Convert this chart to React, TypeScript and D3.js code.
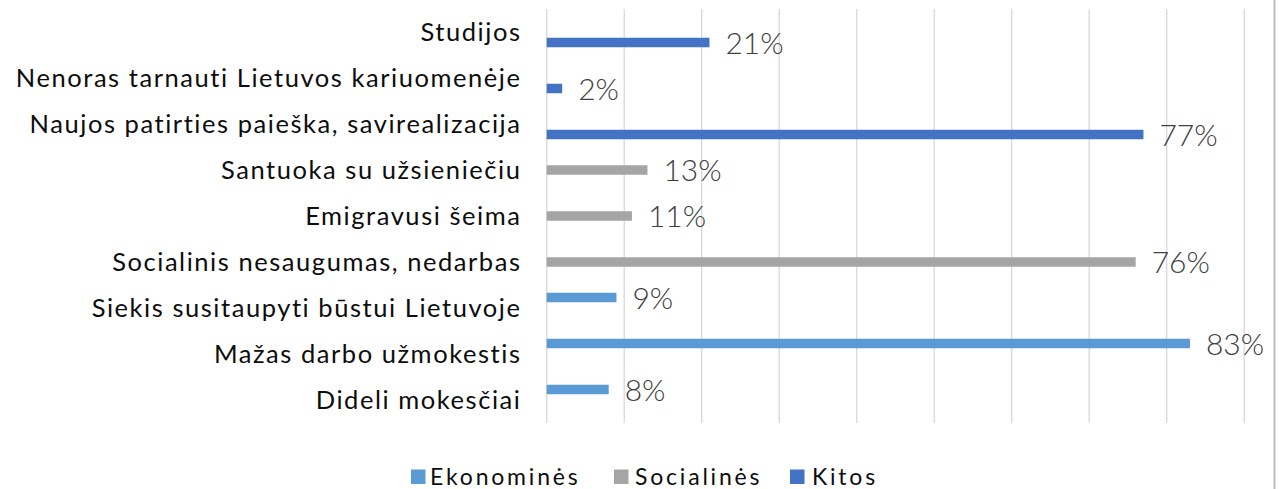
import React from "react";
import * as d3 from "d3";

const categories = [
  "Studijos",
  "Nenoras tarnauti Lietuvos kariuomenėje",
  "Naujos patirties paieška, savirealizacija",
  "Santuoka su užsieniečiu",
  "Emigravusi šeima",
  "Socialinis nesaugumas, nedarbas",
  "Siekis susitaupyti būstui Lietuvoje",
  "Mažas darbo užmokestis",
  "Dideli mokesčiai",
];

const seriesNames = ["Ekonominės", "Socialinės", "Kitos"];
const seriesColors = ["#5B9BD5", "#A5A5A5", "#4472C4"];

// values per category (same order as categories), null = no bar
const ekonomines: (number | null)[] = [null, null, null, null, null, null, 0.09, 0.83, 0.08];
const socialines: (number | null)[] = [null, null, null, 0.13, 0.11, 0.76, null, null, null];
const kitos: (number | null)[] = [0.21, 0.02, 0.77, null, null, null, null, null, null];

const seriesValues = [ekonomines, socialines, kitos];
const xTicks = [0, 0.1, 0.2, 0.3, 0.4, 0.5, 0.6, 0.7, 0.8, 0.9];

const W = 1283;
const H = 489;
const FONT = "Lato, 'Open Sans', sans-serif";

export default function App() {
  const x = d3.scaleLinear().domain([0, 0.9]).range([546.7, 1244.2]);
  const y = d3.scaleBand<string>().domain(categories).range([9, 423]).padding(0);
  const inner = d3.scaleBand<string>().domain(seriesNames).range([-15.75, 15.75]);
  const barH = 9.5;
  const fmt = d3.format(".0%");

  const legendItems = [
    { name: seriesNames[0], sx: 411, tx: 430 },
    { name: seriesNames[1], sx: 614, tx: 635 },
    { name: seriesNames[2], sx: 790, tx: 812 },
  ];

  return (
    <svg
      width={W}
      height={H}
      style={{ position: "absolute", left: 0, top: 0, background: "#fff", fontVariantLigatures: "none" }}
      fontFamily={FONT}
    >
      <rect x={0} y={0} width={W} height={H} fill="#fff" />
      {xTicks.map((t) => (
        <line
          key={t}
          x1={x(t)}
          x2={x(t)}
          y1={9}
          y2={423}
          stroke="#d9d9d9"
          strokeWidth={1.3}
        />
      ))}
      <line x1={1274.5} x2={1274.5} y1={0} y2={H} stroke="#bdbdbd" strokeWidth={2} />
      {categories.map((c) => (
        <text
          key={c}
          x={521.5}
          y={(y(c) as number) + y.bandwidth() / 2 + 9}
          textAnchor="end"
          fontSize={25.5}
          letterSpacing={1.55}
          fill="#0d0d0d"
        >
          {c}
        </text>
      ))}
      {seriesValues.map((vals, si) =>
        vals.map((v, ci) => {
          if (v == null) return null;
          const cy = (y(categories[ci]) as number) + y.bandwidth() / 2 +
            (inner(seriesNames[si]) as number) + inner.bandwidth() / 2;
          return (
            <g key={`${si}-${ci}`}>
              <rect
                x={x(0)}
                y={cy - barH / 2}
                width={x(v) - x(0)}
                height={barH}
                fill={seriesColors[si]}
              />
              <text
                x={x(v) + 16}
                y={cy + 11.3}
                fontSize={30}
                fontWeight={300}
                fill="#404040"
              >
                {fmt(v)}
              </text>
            </g>
          );
        })
      )}
      {legendItems.map((it, i) => (
        <g key={it.name}>
          <rect x={it.sx} y={469.5} width={14.5} height={14.5} fill={seriesColors[i]} />
          <text x={it.tx} y={484.5} fontSize={23} letterSpacing={2.8} fill="#0d0d0d">
            {it.name}
          </text>
        </g>
      ))}
    </svg>
  );
}
